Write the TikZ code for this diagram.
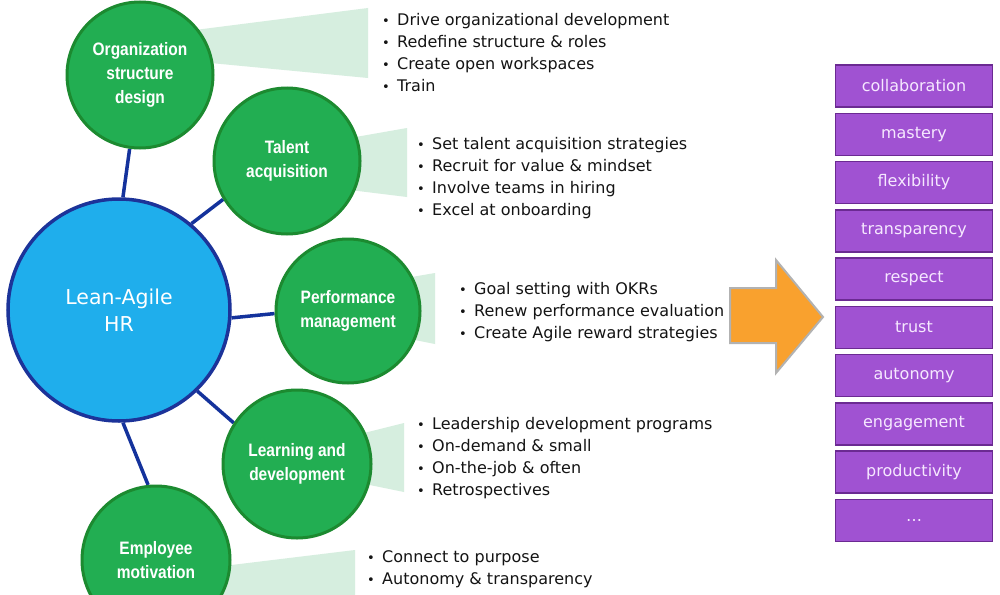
\documentclass[tikz,border=0pt]{standalone}
\usepackage{fontspec}
\setmainfont{DejaVu Sans}
\newfontfamily\circfont{Liberation Sans}[FakeStretch=0.86]
\usetikzlibrary{calc,backgrounds}
\definecolor{cgreen}{HTML}{22AE52}
\definecolor{cgreenb}{HTML}{1C8A30}
\definecolor{cblue}{HTML}{1FAEEC}
\definecolor{cblueb}{HTML}{1C3399}
\definecolor{cline}{HTML}{14329C}
\definecolor{wedge}{HTML}{D6EEDF}
\definecolor{corange}{HTML}{F9A12E}
\definecolor{cpurple}{HTML}{A052D2}
\definecolor{cpurpleb}{HTML}{6B2A92}
\definecolor{ptext}{HTML}{F6E8FF}
\newcommand{\bl}{\makebox[15pt][l]{\fontsize{13}{13}\selectfont •}}
\tikzset{
  hub/.style={circle, draw=cblueb, line width=3.5pt, fill=cblue, minimum size=222pt, inner sep=0pt,
    text=white, align=center, font=\fontsize{20.5}{27}\selectfont},
  topic/.style={circle, draw=cgreenb, line width=3pt, fill=cgreen, inner sep=0pt,
    text=white, align=center, font=\circfont\bfseries\fontsize{18}{24}\selectfont},
  link/.style={draw=cline, line width=3.5pt},
  callout/.style={fill=wedge, draw=none},
  items/.style={anchor=north west, inner sep=0pt, align=left, text=black!92,
    font=\fontsize{16}{22}\selectfont},
  value/.style={rectangle, draw=cpurpleb, line width=1.5pt, fill=cpurple, minimum width=157pt,
    minimum height=42pt, inner sep=0pt, text=ptext, font=\fontsize{16}{18}\selectfont}
}
\begin{document}
\begin{tikzpicture}[x=1pt,y=-1pt]
\useasboundingbox (0,0) rectangle (1000,594);
\begin{scope}
\clip (0,0) rectangle (1000,594);
% nodes
\node[hub] (c) at (119,310) {Lean-Agile\\HR};
\node[topic, minimum size=146pt] (org) at (140,75) {Organization\\structure\\design};
\node[topic, minimum size=146pt] (ta) at (287,161) {Talent\\acquisition};
\node[topic, minimum size=144pt] (pm) at (348,311) {Performance\\management};
\node[topic, minimum size=148pt] (ld) at (297,464) {Learning and\\development};
\node[topic, minimum size=148pt] (em) at (156,560) {Employee\\motivation};
\begin{pgfonlayer}{background}
\fill[white] (0,0) rectangle (1000,594);
% callout wedges
\fill[callout] (195,30) -- (368,8) -- (368,78) -- (200,62) -- cycle;
\fill[callout] (350,138) -- (407,128) -- (407,197) -- (350,190) -- cycle;
\fill[callout] (400,279) -- (435,273) -- (435,344) -- (400,337) -- cycle;
\fill[callout] (360,434) -- (404,423) -- (404,492) -- (360,483) -- cycle;
\fill[callout] (215,567) -- (355,550) -- (355,600) -- (215,600) -- cycle;
% connectors
\draw[link] (c.88) -- (org.262);
\draw[link] (c.50) -- (ta.211);
\draw[link] (c.-4) -- (pm.182);
\draw[link] (c.-46) -- (ld.147);
\draw[link] (c.-88) -- (em.96);
\end{pgfonlayer}
\end{scope}
% item lists
\node[items] (l1) at (382,13) {\bl Drive organizational development\\\bl Redefine structure \& roles\\\bl Create open workspaces\\\bl Train};
\node[items] (l2) at (417,137) {\bl Set talent acquisition strategies\\\bl Recruit for value \& mindset\\\bl Involve teams in hiring\\\bl Excel at onboarding};
\node[items] (l3) at (459,282) {\bl Goal setting with OKRs\\\bl Renew performance evaluation\\\bl Create Agile reward strategies};
\node[items] (l4) at (417,417) {\bl Leadership development programs\\\bl On-demand \& small\\\bl On-the-job \& often\\\bl Retrospectives};
\node[items] (l5) at (367,550) {\bl Connect to purpose\\\bl Autonomy \& transparency};
% arrow
\draw[fill=corange, draw=black!30, line width=2pt, line join=miter]
  (730,288) -- (776,288) -- (776,260) -- (823,317) -- (776,373) -- (776,343) -- (730,343) -- cycle;
% value boxes
\foreach \t [count=\i] in {collaboration,mastery,flexibility,transparency,respect,trust,autonomy,engagement,productivity,\dots}
  \node[value] (v\i) at (914,{86+48.25*(\i-1)}) {\t};
\end{tikzpicture}
\end{document}
